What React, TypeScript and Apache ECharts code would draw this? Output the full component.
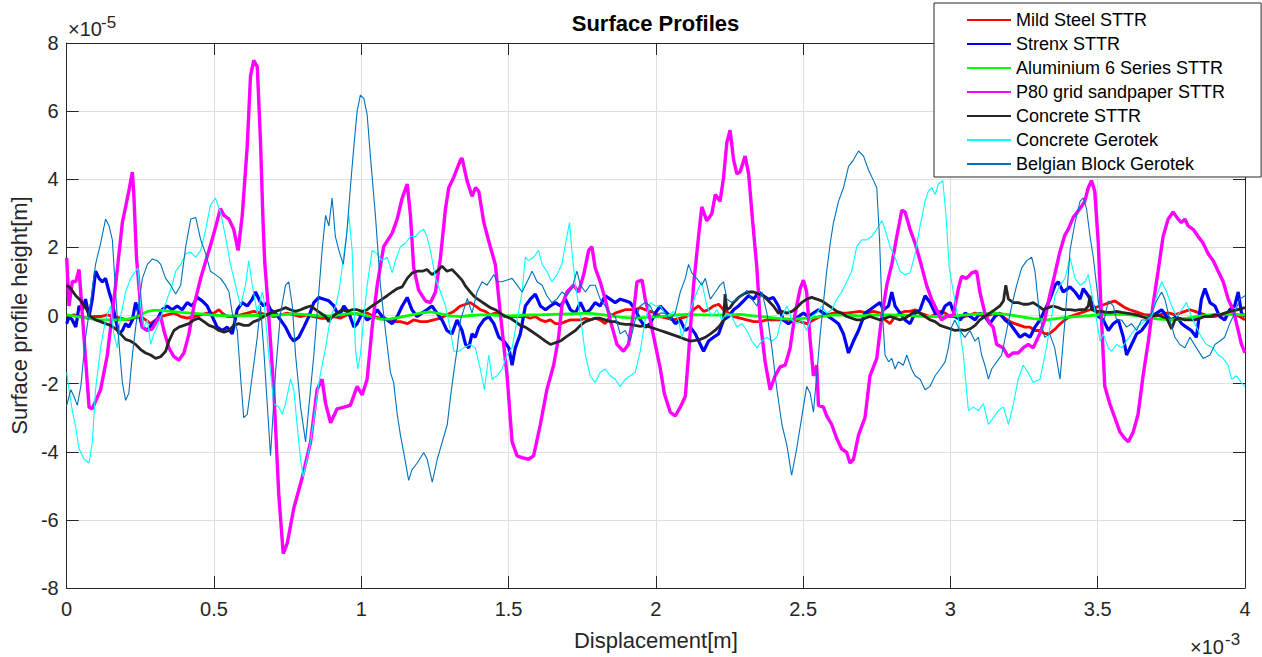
import React, { useEffect, useRef } from 'react';
import * as echarts from 'echarts';

// Displacement is stored in units of 1e-3 m, profile height in units of 1e-5 m.
const X_TICKS = { min: 0, max: 4, interval: 0.5 };
const Y_TICKS = { min: -8, max: 8, interval: 2 };

const MILD_STEEL: number[][] = [
  [0.000,-0.03],[0.025,0.02],[0.048,-0.03],[0.070,-0.08],[0.093,-0.03],[0.115,-0.03],[0.138,0.02],[0.160,-0.03],[0.183,-0.08],[0.206,-0.13],[0.228,-0.08],[0.251,-0.03],[0.268,-0.13],[0.285,-0.24],[0.302,-0.13],[0.319,-0.03],[0.341,0.02],[0.364,0.07],[0.387,-0.03],[0.409,-0.08],[0.432,-0.03],[0.455,0.02],[0.477,0.07],[0.500,0.07],[0.517,0.17],[0.528,0.07],[0.545,-0.03],[0.567,-0.03],[0.590,0.02],[0.613,0.07],[0.635,0.12],[0.658,0.07],
  [0.681,0.02],[0.703,-0.03],[0.726,0.02],[0.749,0.07],[0.771,0.02],[0.794,-0.03],[0.816,0.02],[0.839,-0.03],[0.862,-0.08],[0.884,-0.08],[0.907,-0.03],[0.929,-0.08],[0.952,0.02],[0.975,0.07],[0.997,0.02],[1.020,0.07],[1.043,-0.03],[1.065,-0.08],[1.088,-0.13],[1.110,-0.18],[1.133,-0.18],[1.156,-0.24],[1.178,-0.13],[1.201,-0.18],[1.223,-0.18],[1.246,-0.13],[1.269,-0.08],[1.291,0.02],[1.314,0.12],[1.337,0.28],[1.354,0.33],
  [1.370,0.38],[1.387,0.28],[1.404,0.17],[1.421,0.12],[1.438,0.02],[1.455,0.07],[1.472,0.02],[1.489,-0.03],[1.523,-0.03],[1.557,-0.03],[1.574,-0.08],[1.591,-0.03],[1.608,-0.13],[1.625,-0.18],[1.642,-0.13],[1.659,-0.24],[1.676,-0.24],[1.693,-0.18],[1.710,-0.13],[1.744,-0.13],[1.761,-0.08],[1.777,-0.13],[1.794,-0.08],[1.811,-0.13],[1.828,-0.24],[1.845,-0.03],[1.862,0.07],[1.879,0.12],[1.896,0.17],[1.930,0.17],[1.947,0.23],[1.964,0.17],[1.981,0.12],[1.998,0.07],[2.015,-0.03],
  [2.038,-0.08],[2.060,-0.13],[2.083,-0.08],[2.105,-0.03],[2.128,0.17],[2.145,0.28],[2.162,0.12],[2.179,0.17],[2.196,0.28],[2.213,0.33],[2.230,0.17],[2.247,0.07],[2.264,-0.03],[2.286,-0.08],[2.309,-0.13],[2.332,-0.18],[2.354,-0.18],[2.377,-0.13],[2.422,-0.13],[2.467,-0.13],[2.490,-0.18],[2.512,-0.24],[2.535,-0.13],[2.558,-0.03],[2.580,0.02],[2.603,0.07],[2.648,0.07],[2.693,0.12],
  [2.716,0.07],[2.739,0.12],[2.761,0.07],[2.778,-0.13],[2.795,-0.24],[2.812,-0.03],[2.829,0.07],[2.846,0.12],[2.863,0.12],[2.880,0.17],[2.897,0.07],[2.914,0.02],[2.931,-0.03],[2.948,0.02],[2.965,0.12],[2.982,0.07],[2.999,-0.03],[3.016,-0.03],[3.033,-0.08],[3.050,-0.03],[3.067,0.02],[3.084,0.07],[3.100,0.02],[3.117,-0.03],[3.134,0.02],[3.151,0.07],[3.168,0.02],[3.185,-0.08],[3.202,-0.18],[3.219,-0.24],[3.236,-0.29],[3.253,-0.34],[3.270,-0.34],[3.287,-0.44],[3.304,-0.44],[3.321,-0.54],[3.338,-0.52],[3.355,-0.40],[3.372,-0.25],
  [3.389,-0.13],[3.406,-0.03],[3.423,0.02],[3.440,0.07],[3.457,0.12],[3.474,0.17],[3.491,0.23],[3.508,0.28],[3.524,0.33],[3.541,0.38],[3.558,0.43],[3.575,0.33],[3.592,0.23],[3.609,0.17],[3.626,0.12],[3.643,0.07],[3.660,0.02],[3.677,0.02],[3.694,-0.03],[3.711,0.02],[3.728,0.07],[3.745,0.07],[3.762,0.02],[3.779,0.07],[3.796,0.12],[3.813,0.17],[3.830,0.12],[3.847,0.07],[3.864,0.02],[3.881,-0.03],[3.898,-0.03],[3.915,0.02],[3.931,0.02],[3.948,0.07],[3.965,0.02],[3.982,-0.03],[4.000,-0.13],
];

const STRENX: number[][] = [
  [0.000,-0.24],[0.008,-0.03],[0.019,-0.13],[0.031,-0.34],[0.042,0.28],[0.053,0.17],[0.064,0.48],[0.076,-0.03],[0.087,0.48],[0.098,1.30],[0.110,1.09],[0.121,0.99],[0.132,1.09],[0.144,0.69],[0.155,0.38],[0.166,-0.13],[0.178,-0.54],[0.189,-0.44],[0.200,-0.24],[0.211,-0.34],[0.223,-0.13],[0.234,0.38],[0.245,0.07],[0.257,-0.34],[0.274,-0.44],[0.291,-0.24],[0.307,-0.13],[0.324,0.17],[0.341,0.28],[0.358,0.17],[0.375,0.28],[0.392,0.17],[0.409,0.38],[0.426,0.28],[0.443,0.53],[0.460,0.43],[0.477,0.28],[0.494,-0.03],[0.511,-0.34],[0.528,-0.44],[0.545,-0.34],[0.562,-0.54],[0.579,0.17],[0.596,0.38],[0.613,0.28],[0.630,0.48],[0.641,0.69],[0.658,0.38],
  [0.669,0.28],[0.681,0.38],[0.692,0.17],[0.709,0.07],[0.726,-0.13],[0.743,-0.34],[0.760,-0.64],[0.771,-0.75],[0.788,-0.64],[0.805,-0.34],[0.822,-0.03],[0.839,0.38],[0.856,0.53],[0.873,0.48],[0.890,0.43],[0.907,0.28],[0.924,-0.03],[0.941,0.28],[0.958,0.07],[0.975,-0.34],[0.986,-0.24],[1.003,0.07],[1.020,-0.13],[1.037,-0.03],[1.054,0.17],[1.071,-0.03],[1.088,-0.13],[1.105,-0.24],[1.122,-0.03],[1.139,0.28],[1.156,0.53],[1.172,0.17],[1.189,-0.03],[1.206,0.07],[1.223,0.17],[1.240,0.28],[1.257,0.07],[1.274,-0.13],[1.291,-0.44],[1.308,-0.54],[1.325,-0.13],[1.342,-0.44],
  [1.354,-0.85],[1.365,-0.95],[1.376,-0.54],[1.387,-0.64],[1.399,-0.34],[1.416,-0.13],[1.433,-0.03],[1.450,-0.24],[1.467,-0.64],[1.484,-0.75],[1.501,-0.95],[1.512,-1.46],[1.523,-0.95],[1.540,-0.54],[1.557,0.28],[1.574,0.48],[1.591,0.63],[1.608,0.28],[1.625,0.17],[1.642,0.28],[1.659,0.38],[1.676,0.28],[1.693,0.48],[1.710,0.17],[1.727,0.07],[1.744,0.38],[1.761,0.07],[1.777,0.17],[1.794,0.38],[1.811,0.28],[1.828,0.58],[1.845,0.48],[1.862,0.38],[1.879,0.48],[1.896,0.43],[1.913,0.38],[1.930,0.17],[1.947,-0.13],[1.964,-0.34],[1.981,-0.24],[1.998,0.07],[2.015,0.28],
  [2.032,0.12],[2.049,-0.03],[2.066,-0.24],[2.083,-0.13],[2.100,-0.44],[2.117,-0.34],[2.134,-0.54],[2.151,-0.85],[2.162,-1.05],[2.179,-0.75],[2.196,-0.64],[2.213,-0.54],[2.230,-0.13],[2.247,-0.03],[2.264,0.17],[2.281,0.28],[2.298,0.43],[2.315,0.58],[2.332,0.48],[2.349,0.69],[2.365,0.58],[2.382,0.48],[2.399,0.53],[2.416,0.28],[2.433,-0.13],[2.450,-0.24],[2.467,-0.13],[2.484,-0.03],[2.501,0.07],[2.518,-0.03],[2.535,0.07],[2.552,0.17],[2.569,0.07],[2.586,-0.03],[2.603,-0.13],[2.620,-0.24],[2.637,-0.54],[2.654,-1.10],[2.671,-0.75],[2.688,-0.44],
  [2.710,0.07],[2.727,0.17],[2.744,0.28],[2.761,0.38],[2.773,0.17],[2.790,0.28],[2.801,0.69],[2.812,0.28],[2.829,0.07],[2.846,-0.13],[2.863,-0.24],[2.880,0.07],[2.897,0.17],[2.914,0.58],[2.931,0.38],[2.948,0.07],[2.965,-0.03],[2.982,0.28],[2.999,0.38],[3.016,-0.03],[3.033,-0.13],[3.050,0.07],[3.067,-0.03],[3.084,-0.13],[3.100,0.07],[3.117,-0.03],[3.134,-0.24],[3.151,-0.03],[3.168,0.07],[3.185,-0.13],[3.202,-0.24],[3.219,-0.44],[3.236,-0.64],[3.253,-0.54],[3.270,-0.64],[3.287,-0.34],[3.304,-0.13],[3.321,0.17],[3.338,0.48],[3.355,0.89],[3.366,0.99],[3.383,0.69],
  [3.406,0.84],[3.423,0.69],[3.440,0.48],[3.451,0.79],[3.468,0.58],[3.485,0.28],[3.502,-0.03],[3.519,-0.13],[3.536,-0.44],[3.553,-0.24],[3.570,-0.13],[3.587,-0.64],[3.598,-1.16],[3.615,-0.85],[3.632,-0.54],[3.649,-0.44],[3.666,-0.24],[3.683,-0.03],[3.700,0.07],[3.717,0.17],[3.734,-0.03],[3.751,-0.13],[3.768,-0.03],[3.785,-0.24],[3.801,-0.34],[3.818,-0.44],[3.835,-0.64],[3.852,0.48],[3.864,0.79],[3.881,0.38],[3.898,0.28],[3.914,-0.03],[3.931,-0.13],[3.948,0.17],[3.965,0.28],[3.977,0.69],[3.988,0.07],[4.000,-0.03],
];

const ALUMINIUM: number[][] = [
  [0.000,0.02],[0.036,-0.03],[0.070,-0.08],[0.104,-0.13],[0.138,-0.13],[0.172,-0.13],[0.206,-0.11],[0.240,-0.03],[0.274,0.12],[0.296,0.15],[0.319,0.15],[0.353,0.12],[0.387,0.09],[0.421,0.07],[0.455,0.05],[0.488,0.02],[0.522,0.00],[0.556,-0.01],[0.590,-0.01],[0.624,0.00],[0.658,0.00],[0.692,0.00],[0.726,0.02],[0.760,0.05],[0.794,0.04],[0.828,0.01],[0.862,-0.01],[0.896,-0.01],[0.929,0.02],[0.963,0.07],[0.997,0.05],[1.031,-0.03],[1.065,-0.11],[1.099,-0.10],[1.133,-0.05],[1.167,0.01],[1.201,0.07],[1.235,0.11],[1.269,0.05],[1.303,-0.01],[1.337,-0.03],[1.370,0.00],[1.404,0.02],[1.438,0.02],[1.472,0.00],[1.506,-0.01],[1.540,0.00],[1.574,0.02],[1.608,0.02],[1.642,0.03],[1.676,0.04],[1.710,0.05],[1.744,0.06],[1.777,0.06],[1.811,0.03],[1.845,-0.01],[1.879,-0.05],[1.913,-0.07],[1.947,-0.07],[1.981,-0.05],[2.015,-0.03],[2.060,0.01],[2.105,0.03],[2.151,0.02],[2.196,0.01],[2.241,0.02],[2.286,0.03],[2.332,-0.01],[2.377,-0.05],[2.422,-0.09],[2.467,-0.11],[2.512,-0.08],[2.558,-0.03],[2.603,0.01],[2.648,0.01],[2.693,-0.01],[2.739,0.01],[2.784,0.02],[2.829,0.01],[2.874,-0.01],[2.919,-0.03],[2.965,-0.03],[3.010,-0.01],[3.055,0.02],[3.100,0.05],[3.146,0.07],[3.191,0.03],[3.236,-0.03],[3.281,-0.09],[3.327,-0.13],[3.372,-0.08],[3.428,-0.03],[3.474,0.00],[3.519,0.03],[3.564,0.04],[3.609,0.02],[3.654,-0.03],[3.700,-0.10],[3.745,-0.13],[3.790,-0.10],[3.835,-0.03],[3.881,0.02],[3.926,0.04],[3.971,0.03],[4.000,0.01],
];

const P80_SANDPAPER: number[][] = [
  [0.000,1.69],[0.008,0.28],[0.019,1.00],[0.031,1.00],[0.042,1.35],[0.076,-2.69],[0.087,-2.74],[0.115,-2.18],[0.138,-1.16],[0.166,0.89],[0.189,2.73],[0.211,3.65],[0.223,4.21],[0.228,3.55],[0.237,1.70],[0.257,-0.34],[0.274,-0.44],[0.291,-0.39],[0.308,-0.13],[0.319,-0.03],[0.330,-0.44],[0.347,-0.95],[0.364,-1.21],[0.381,-1.31],[0.398,-1.10],[0.415,-0.54],[0.432,0.28],[0.455,1.10],[0.483,1.91],[0.500,2.42],[0.522,3.14],[0.534,2.94],[0.551,2.83],[0.567,2.53],[0.582,1.91],[0.596,2.94],[0.613,4.98],[0.624,7.03],[0.635,7.49],[0.647,7.30],[0.658,5.10],[0.666,2.90],[0.672,1.60],[0.681,0.60],[0.703,-2.18],[0.720,-5.25],[0.735,-6.99],[0.749,-6.68],[0.771,-5.66],[0.800,-4.74],[0.828,-3.71],[0.850,-2.18],[0.867,-1.87],[0.879,-2.59],[0.896,-3.15],[0.918,-2.74],[0.941,-2.69],[0.963,-2.64],[0.986,-2.08],[1.003,-2.33],[1.020,-1.87],[1.037,-0.34],[1.054,0.89],[1.076,2.02],[1.105,2.42],[1.122,2.83],[1.139,3.45],[1.156,3.86],[1.167,2.94],[1.178,1.40],[1.195,0.74],[1.218,0.43],[1.235,0.38],[1.252,0.69],[1.269,1.71],[1.286,3.14],[1.297,3.75],[1.314,4.06],[1.337,4.57],[1.342,4.62],[1.359,3.96],[1.376,3.50],[1.388,3.75],[1.399,3.65],[1.416,2.73],[1.438,2.02],[1.455,1.50],[1.472,0.07],[1.495,-1.77],[1.512,-3.71],[1.529,-4.12],[1.546,-4.17],[1.568,-4.22],[1.585,-4.12],[1.608,-3.20],[1.630,-2.18],[1.653,-1.46],[1.670,-0.64],[1.681,0.28],[1.698,0.69],[1.721,0.89],[1.738,0.69],[1.755,1.20],[1.772,1.91],[1.783,2.02],[1.794,1.40],[1.811,0.99],[1.828,0.48],[1.845,-0.13],[1.868,-0.85],[1.890,-1.05],[1.907,-0.85],[1.924,0.07],[1.936,0.99],[1.953,1.04],[1.964,0.48],[1.981,-0.13],[1.998,-0.85],[2.015,-1.55],[2.029,-2.30],[2.049,-2.84],[2.066,-2.95],[2.083,-2.69],[2.100,-2.38],[2.111,-1.16],[2.128,0.89],[2.145,2.32],[2.156,3.19],[2.173,2.78],[2.190,2.99],[2.202,3.55],[2.218,3.35],[2.230,4.06],[2.241,5.08],[2.252,5.44],[2.264,4.57],[2.275,4.16],[2.286,4.21],[2.303,4.68],[2.315,4.16],[2.329,2.73],[2.343,1.40],[2.354,-0.13],[2.371,-1.36],[2.388,-2.18],[2.405,-1.77],[2.422,-1.51],[2.439,-1.46],[2.456,-0.95],[2.473,0.07],[2.490,0.79],[2.501,1.04],[2.512,0.69],[2.524,-0.75],[2.535,-1.77],[2.546,-1.46],[2.552,-2.64],[2.569,-2.69],[2.580,-2.95],[2.597,-3.20],[2.614,-3.61],[2.631,-3.92],[2.648,-4.02],[2.659,-4.33],[2.671,-4.22],[2.688,-3.51],[2.710,-3.00],[2.727,-1.77],[2.750,-1.26],[2.767,-0.03],[2.784,0.89],[2.801,1.50],[2.818,2.32],[2.835,3.09],[2.846,3.04],[2.863,2.53],[2.880,2.12],[2.897,1.61],[2.919,0.89],[2.936,0.48],[2.953,0.17],[2.970,-0.13],[2.987,-0.03],[3.010,0.02],[3.027,0.79],[3.038,1.15],[3.055,1.09],[3.072,1.25],[3.089,1.30],[3.100,0.69],[3.117,0.07],[3.134,-0.24],[3.145,-0.34],[3.157,-0.85],[3.179,-0.95],[3.196,-1.21],[3.213,-1.10],[3.230,-1.10],[3.247,-0.95],[3.264,-0.85],[3.281,-0.95],[3.303,-0.54],[3.320,-0.13],[3.337,0.58],[3.354,1.20],[3.371,1.85],[3.388,2.35],[3.400,2.53],[3.417,2.88],[3.440,3.14],[3.456,3.35],[3.468,3.75],[3.479,3.96],[3.490,3.65],[3.502,2.12],[3.513,-0.13],[3.524,-2.08],[3.541,-2.59],[3.558,-3.00],[3.575,-3.41],[3.592,-3.61],[3.604,-3.71],[3.621,-3.41],[3.637,-2.90],[3.654,-1.77],[3.672,-0.75],[3.689,0.38],[3.705,1.30],[3.722,2.32],[3.739,2.83],[3.756,3.04],[3.773,2.83],[3.784,2.73],[3.796,2.83],[3.807,2.63],[3.824,2.53],[3.841,2.32],[3.858,2.12],[3.875,1.81],[3.892,1.61],[3.909,1.30],[3.926,0.99],[3.943,0.48],[3.960,0.17],[3.977,-0.44],[3.988,-0.85],[4.000,-1.10],
];

const CONCRETE_STTR: number[][] = [
  [0.000,0.89],[0.014,0.79],[0.031,0.58],[0.048,0.43],[0.064,0.23],[0.081,-0.03],[0.098,-0.13],[0.115,-0.18],[0.132,-0.24],[0.149,-0.29],[0.166,-0.39],[0.183,-0.54],[0.200,-0.70],[0.217,-0.75],[0.234,-0.85],[0.251,-1.00],[0.268,-1.10],[0.285,-1.16],[0.302,-1.26],[0.319,-1.21],[0.336,-1.05],[0.347,-0.75],[0.364,-0.44],[0.381,-0.34],[0.398,-0.29],[0.415,-0.24],[0.432,-0.13],[0.449,-0.08],[0.466,-0.18],[0.483,-0.29],[0.500,-0.34],[0.517,-0.44],[0.534,-0.49],[0.551,-0.44],[0.567,-0.29],[0.584,-0.24],[0.601,-0.29],[0.618,-0.29],[0.635,-0.18],[0.652,-0.13],[0.669,-0.03],[0.692,0.07],[0.709,0.12],[0.726,0.17],[0.743,0.23],[0.760,0.17],[0.777,0.12],[0.794,0.17],[0.811,0.23],[0.828,0.28],[0.845,0.17],[0.862,0.07],[0.879,-0.03],[0.890,-0.18],[0.901,-0.03],[0.918,0.07],[0.935,0.17],[0.952,0.12],[0.969,0.17],[0.986,0.17],[1.003,0.12],[1.020,0.17],[1.037,0.28],[1.054,0.38],[1.071,0.48],[1.088,0.58],[1.105,0.69],[1.122,0.79],[1.139,0.84],[1.156,1.09],[1.173,1.25],[1.190,1.30],[1.207,1.30],[1.223,1.35],[1.240,1.20],[1.257,1.30],[1.274,1.45],[1.291,1.30],[1.308,1.35],[1.325,1.20],[1.342,1.04],[1.354,0.86],[1.370,0.69],[1.387,0.53],[1.404,0.43],[1.421,0.33],[1.438,0.23],[1.455,0.17],[1.472,0.07],[1.489,-0.03],[1.506,-0.08],[1.523,-0.18],[1.540,-0.29],[1.557,-0.34],[1.574,-0.44],[1.591,-0.54],[1.608,-0.64],[1.625,-0.75],[1.642,-0.85],[1.659,-0.80],[1.676,-0.75],[1.693,-0.64],[1.710,-0.54],[1.727,-0.44],[1.744,-0.29],[1.761,-0.18],[1.777,-0.13],[1.794,-0.08],[1.811,-0.08],[1.828,-0.13],[1.845,-0.18],[1.862,-0.18],[1.879,-0.24],[1.896,-0.26],[1.913,-0.26],[1.930,-0.29],[1.947,-0.32],[1.964,-0.29],[1.981,-0.34],[1.998,-0.39],[2.015,-0.44],[2.032,-0.49],[2.049,-0.54],[2.066,-0.59],[2.083,-0.64],[2.100,-0.70],[2.117,-0.75],[2.134,-0.73],[2.151,-0.70],[2.168,-0.64],[2.185,-0.54],[2.201,-0.44],[2.218,-0.29],[2.230,-0.13],[2.235,0.63],[2.241,0.17],[2.252,0.23],[2.264,0.38],[2.281,0.53],[2.298,0.63],[2.315,0.69],[2.332,0.69],[2.349,0.63],[2.365,0.58],[2.382,0.43],[2.399,0.28],[2.416,0.07],[2.428,0.12],[2.445,0.07],[2.462,0.12],[2.479,0.23],[2.495,0.38],[2.512,0.48],[2.529,0.53],[2.546,0.48],[2.563,0.43],[2.580,0.33],[2.597,0.23],[2.614,0.12],[2.631,0.07],[2.648,-0.03],[2.665,-0.08],[2.682,-0.13],[2.699,-0.13],[2.710,-0.08],[2.727,-0.03],[2.744,-0.08],[2.761,-0.13],[2.778,-0.08],[2.795,-0.03],[2.812,-0.08],[2.829,-0.13],[2.846,-0.08],[2.863,0.02],[2.880,0.12],[2.897,0.07],[2.914,-0.03],[2.931,-0.13],[2.948,-0.18],[2.965,-0.29],[2.982,-0.34],[2.999,-0.39],[3.016,-0.44],[3.033,-0.42],[3.050,-0.44],[3.067,-0.39],[3.084,-0.29],[3.100,-0.13],[3.117,-0.03],[3.134,0.07],[3.151,0.17],[3.168,0.28],[3.180,0.43],[3.188,0.89],[3.197,0.48],[3.214,0.38],[3.230,0.38],[3.247,0.33],[3.264,0.33],[3.281,0.38],[3.298,0.28],[3.315,0.17],[3.332,0.23],[3.349,0.28],[3.366,0.23],[3.383,0.17],[3.406,0.17],[3.423,0.15],[3.440,0.17],[3.457,0.17],[3.468,0.28],[3.474,0.58],[3.479,0.17],[3.496,0.12],[3.513,0.12],[3.530,0.09],[3.547,0.09],[3.564,0.12],[3.581,0.09],[3.598,0.07],[3.615,0.05],[3.632,0.02],[3.649,-0.03],[3.666,-0.08],[3.683,-0.03],[3.700,0.02],[3.717,-0.03],[3.734,-0.08],[3.751,-0.39],[3.762,-0.13],[3.779,-0.08],[3.796,-0.13],[3.813,-0.13],[3.830,-0.13],[3.847,-0.08],[3.864,-0.03],[3.881,-0.03],[3.898,0.02],[3.915,0.02],[3.931,0.07],[3.948,0.12],[3.965,0.15],[3.982,0.19],[4.000,0.23],
];

const CONCRETE_GEROTEK: number[][] = [
  [0.000,-1.67],[0.008,-2.18],[0.019,-2.79],[0.031,-3.30],[0.042,-3.92],[0.059,-4.22],[0.076,-4.33],[0.087,-3.71],[0.098,-2.18],[0.115,-0.95],[0.132,-0.13],[0.149,0.28],[0.160,-0.54],[0.172,-0.95],[0.183,-0.03],[0.200,0.69],[0.217,1.09],[0.234,1.30],[0.242,1.40],[0.251,0.28],[0.262,-0.34],[0.274,-0.13],[0.285,-0.85],[0.296,-0.54],[0.307,-0.34],[0.324,0.07],[0.341,0.48],[0.358,0.89],[0.370,1.30],[0.387,1.50],[0.404,1.81],[0.421,1.86],[0.438,1.71],[0.455,1.91],[0.472,2.53],[0.488,3.24],[0.505,3.45],[0.522,3.04],[0.539,2.32],[0.556,1.50],[0.573,0.89],[0.590,0.28],[0.607,0.89],[0.618,1.61],[0.630,0.89],[0.647,0.07],[0.664,0.69],[0.669,0.50],[0.686,-1.16],[0.703,-2.59],[0.720,-2.69],[0.732,-2.90],[0.743,-2.59],[0.760,-1.87],[0.771,-2.18],[0.782,-3.20],[0.794,-4.22],[0.803,-4.74],[0.816,-4.22],[0.828,-3.71],[0.845,-2.69],[0.856,-1.97],[0.867,-1.46],[0.879,-0.95],[0.890,-0.34],[0.901,0.07],[0.913,0.28],[0.924,0.69],[0.935,1.40],[0.946,2.12],[0.958,2.94],[0.969,1.91],[0.980,-0.95],[0.988,-1.57],[0.997,-1.16],[1.009,-0.03],[1.020,0.89],[1.037,1.91],[1.054,1.81],[1.071,1.61],[1.088,1.71],[1.105,1.25],[1.116,1.61],[1.133,2.02],[1.150,2.12],[1.167,2.32],[1.184,2.32],[1.201,2.48],[1.212,2.53],[1.223,2.32],[1.235,1.91],[1.252,1.09],[1.269,0.69],[1.286,0.28],[1.303,-0.44],[1.314,-1.05],[1.331,-1.05],[1.348,-0.95],[1.370,-0.85],[1.387,-0.95],[1.404,-1.57],[1.418,-2.18],[1.433,-1.16],[1.444,-1.87],[1.461,-1.77],[1.478,-1.57],[1.495,-1.16],[1.512,-0.95],[1.529,-0.13],[1.546,0.69],[1.557,1.71],[1.568,1.61],[1.585,1.71],[1.602,1.91],[1.614,1.50],[1.630,1.30],[1.647,0.99],[1.664,1.20],[1.681,1.50],[1.698,2.32],[1.707,2.73],[1.715,1.91],[1.727,0.89],[1.744,-0.03],[1.761,-1.16],[1.777,-1.77],[1.794,-1.97],[1.811,-1.67],[1.828,-1.57],[1.845,-1.77],[1.862,-1.87],[1.879,-2.08],[1.896,-1.87],[1.913,-1.77],[1.930,-1.67],[1.947,-1.05],[1.964,-0.13],[1.981,0.38],[1.998,0.28],[2.015,0.28],[2.038,-0.03],[2.060,0.12],[2.077,-0.13],[2.088,-0.64],[2.105,-0.13],[2.122,0.28],[2.139,0.69],[2.156,0.99],[2.173,0.28],[2.190,-0.03],[2.207,0.17],[2.224,-0.13],[2.241,0.07],[2.258,-0.03],[2.275,-0.34],[2.292,-0.24],[2.309,-0.44],[2.326,-0.75],[2.343,-0.95],[2.360,-0.75],[2.377,-0.64],[2.394,-0.75],[2.411,-0.64],[2.428,-0.03],[2.445,0.28],[2.462,-0.13],[2.479,-0.24],[2.495,-0.13],[2.512,-0.44],[2.529,-0.03],[2.546,0.07],[2.563,0.28],[2.580,0.07],[2.597,0.17],[2.614,0.48],[2.631,0.69],[2.648,0.99],[2.665,1.30],[2.682,2.02],[2.699,2.22],[2.716,2.22],[2.733,2.32],[2.750,2.53],[2.767,2.78],[2.778,2.53],[2.795,2.02],[2.812,1.71],[2.829,1.30],[2.846,1.20],[2.863,1.25],[2.880,1.81],[2.897,2.63],[2.914,3.35],[2.925,3.65],[2.937,3.75],[2.948,3.55],[2.959,3.86],[2.974,3.96],[2.985,2.94],[2.996,1.40],[3.010,0.69],[3.027,-0.13],[3.044,-1.16],[3.061,-2.79],[3.078,-2.69],[3.095,-2.79],[3.112,-2.59],[3.129,-3.20],[3.146,-3.00],[3.163,-2.79],[3.180,-2.69],[3.197,-3.20],[3.214,-2.59],[3.230,-1.87],[3.247,-1.46],[3.264,-1.67],[3.281,-1.97],[3.304,-1.87],[3.321,-1.16],[3.338,-0.34],[3.355,0.58],[3.372,0.89],[3.389,1.09],[3.406,1.71],[3.423,1.09],[3.440,0.89],[3.457,0.99],[3.468,1.20],[3.479,0.69],[3.496,-0.13],[3.508,-0.75],[3.519,-0.54],[3.536,-0.95],[3.547,-1.05],[3.564,-0.85],[3.581,-0.95],[3.598,-0.75],[3.615,-0.54],[3.632,-0.34],[3.649,-0.24],[3.666,-0.13],[3.683,-0.03],[3.700,0.58],[3.717,0.99],[3.734,0.69],[3.751,0.28],[3.768,-0.03],[3.785,0.17],[3.801,0.38],[3.818,-0.03],[3.835,-0.34],[3.852,-0.64],[3.869,-0.85],[3.892,-0.95],[3.909,-1.16],[3.926,-1.26],[3.943,-1.46],[3.954,-1.87],[3.971,-1.77],[3.988,-1.97],[4.000,-2.08],
];

const BELGIAN_BLOCK: number[][] = [
  [0.000,-2.64],[0.014,-2.18],[0.025,-2.38],[0.036,-2.64],[0.048,-2.08],[0.064,-0.64],[0.081,0.38],[0.098,1.50],[0.115,2.12],[0.132,2.83],[0.144,2.63],[0.155,2.22],[0.166,0.69],[0.178,-0.85],[0.189,-1.97],[0.200,-2.49],[0.211,-2.28],[0.223,-1.16],[0.240,0.07],[0.257,1.09],[0.274,1.50],[0.291,1.66],[0.308,1.61],[0.319,1.50],[0.336,1.09],[0.353,0.89],[0.370,0.63],[0.387,0.89],[0.404,2.02],[0.421,2.83],[0.438,2.88],[0.455,2.22],[0.472,1.81],[0.488,1.30],[0.505,1.20],[0.522,1.09],[0.539,0.89],[0.551,0.69],[0.562,0.07],[0.579,-0.44],[0.590,-1.77],[0.601,-3.00],[0.613,-2.90],[0.630,-1.77],[0.647,-0.64],[0.658,0.28],[0.669,-1.00],[0.692,-4.12],[0.709,-1.67],[0.726,0.07],[0.743,0.89],[0.754,0.99],[0.766,0.28],[0.777,-1.16],[0.794,-2.69],[0.811,-3.71],[0.822,-2.69],[0.839,-1.16],[0.856,0.69],[0.867,1.91],[0.879,2.94],[0.890,2.63],[0.901,3.45],[0.912,2.32],[0.924,1.91],[0.939,1.50],[0.950,2.32],[0.963,3.75],[0.975,4.98],[0.986,6.00],[0.997,6.47],[1.009,6.37],[1.020,5.90],[1.031,4.68],[1.048,2.94],[1.065,0.89],[1.082,-0.44],[1.099,-1.67],[1.110,-1.97],[1.122,-2.90],[1.133,-3.51],[1.144,-4.02],[1.161,-4.84],[1.172,-4.53],[1.190,-4.33],[1.212,-4.02],[1.224,-4.22],[1.241,-4.89],[1.258,-4.22],[1.275,-3.71],[1.292,-3.20],[1.303,-2.38],[1.314,-1.67],[1.326,-0.95],[1.337,-0.13],[1.348,0.17],[1.360,0.50],[1.376,0.07],[1.393,0.69],[1.410,0.99],[1.427,0.89],[1.450,1.20],[1.461,0.99],[1.478,0.99],[1.495,1.04],[1.512,1.09],[1.529,0.89],[1.546,0.69],[1.563,0.99],[1.580,1.30],[1.597,0.99],[1.614,0.89],[1.630,0.58],[1.647,0.38],[1.664,0.48],[1.681,0.69],[1.698,0.58],[1.715,0.79],[1.732,1.30],[1.744,0.89],[1.761,0.69],[1.777,0.89],[1.794,0.89],[1.811,0.48],[1.828,0.28],[1.845,0.07],[1.862,-0.03],[1.879,-0.54],[1.896,-0.44],[1.913,-0.75],[1.930,-0.13],[1.947,0.28],[1.964,0.38],[1.981,0.28],[1.998,-0.03],[2.015,0.07],[2.032,0.07],[2.049,-0.13],[2.066,0.07],[2.083,0.69],[2.100,1.09],[2.111,1.50],[2.122,1.25],[2.139,1.09],[2.156,0.89],[2.168,1.09],[2.185,0.48],[2.202,0.69],[2.218,0.89],[2.230,0.99],[2.241,0.48],[2.258,0.38],[2.275,0.48],[2.292,0.58],[2.309,0.74],[2.326,0.48],[2.343,0.28],[2.360,0.69],[2.377,0.07],[2.394,-0.95],[2.411,-2.18],[2.428,-3.20],[2.445,-3.82],[2.461,-4.69],[2.478,-3.92],[2.495,-3.00],[2.512,-2.08],[2.524,-2.28],[2.535,-2.84],[2.546,-1.77],[2.558,-0.54],[2.569,0.38],[2.580,1.30],[2.592,2.12],[2.603,2.73],[2.620,3.35],[2.637,3.75],[2.654,4.37],[2.671,4.57],[2.688,4.83],[2.705,4.68],[2.722,4.27],[2.739,3.96],[2.750,3.75],[2.759,2.32],[2.767,0.38],[2.778,-1.16],[2.790,-1.36],[2.801,-1.26],[2.812,-1.57],[2.823,-1.36],[2.840,-1.46],[2.852,-1.16],[2.868,-1.57],[2.880,-1.77],[2.897,-1.87],[2.914,-2.18],[2.931,-2.08],[2.948,-1.77],[2.965,-1.57],[2.982,-1.36],[2.993,-0.95],[3.004,-0.34],[3.015,-0.13],[3.032,-0.44],[3.049,-0.64],[3.066,-0.44],[3.083,-0.75],[3.095,-0.64],[3.106,-1.16],[3.117,-1.46],[3.129,-1.87],[3.140,-1.57],[3.157,-1.36],[3.174,-1.16],[3.191,-0.44],[3.208,0.28],[3.225,0.89],[3.242,1.40],[3.259,1.61],[3.276,1.71],[3.287,1.30],[3.303,-0.03],[3.320,-0.64],[3.337,-0.54],[3.354,-0.95],[3.372,-1.87],[3.389,-0.13],[3.406,1.91],[3.423,2.73],[3.440,3.35],[3.451,3.45],[3.462,3.14],[3.474,2.32],[3.485,1.71],[3.496,0.89],[3.507,0.07],[3.519,-0.24],[3.536,0.43],[3.553,0.28],[3.564,-0.13],[3.581,-0.13],[3.598,-0.34],[3.615,-0.24],[3.632,-0.44],[3.649,-0.13],[3.666,-0.13],[3.683,0.07],[3.700,0.43],[3.717,0.69],[3.728,0.48],[3.745,-0.13],[3.762,-0.64],[3.779,-0.85],[3.796,-0.95],[3.813,-0.64],[3.835,-0.95],[3.858,-1.26],[3.881,-1.16],[3.898,-0.85],[3.915,-0.75],[3.931,-0.64],[3.948,-0.24],[3.965,0.07],[3.982,0.48],[4.000,0.58],
];

const SERIES_NAMES = [
  'Mild Steel STTR',
  'Strenx STTR',
  'Aluminium 6 Series STTR',
  'P80 grid sandpaper STTR',
  'Concrete STTR',
  'Concrete Gerotek',
  'Belgian Block Gerotek',
];
const SERIES_DATA = [MILD_STEEL, STRENX, ALUMINIUM, P80_SANDPAPER, CONCRETE_STTR, CONCRETE_GEROTEK, BELGIAN_BLOCK];
const SERIES_COLORS = ['#ff0000', '#0000ff', '#00ff00', '#ff00ff', '#262626', '#00ffff', '#0072bd'];
const SERIES_WIDTHS = [2.8, 3.2, 2.8, 3.4, 2.8, 1.1, 1.1];

const FONT = '"Liberation Sans", Arial, Helvetica, sans-serif';
const AXIS_COLOR = '#262626';
const GRID_COLOR = '#dfdfdf';

export default function App() {
  const ref = useRef<HTMLDivElement>(null);

  useEffect(() => {
    if (!ref.current) return;
    const chart = echarts.init(ref.current, null, { renderer: 'svg' });

    const baseX = {
      type: 'value' as const,
      min: X_TICKS.min,
      max: X_TICKS.max,
      interval: X_TICKS.interval,
      axisLine: { onZero: false, lineStyle: { color: AXIS_COLOR, width: 1 } },
      axisTick: { inside: true, length: 12, lineStyle: { color: AXIS_COLOR, width: 1 } },
    };
    const baseY = {
      type: 'value' as const,
      min: Y_TICKS.min,
      max: Y_TICKS.max,
      interval: Y_TICKS.interval,
      axisLine: { onZero: false, lineStyle: { color: AXIS_COLOR, width: 1 } },
      axisTick: { inside: true, length: 12, lineStyle: { color: AXIS_COLOR, width: 1 } },
    };

    chart.setOption({
      animation: false,
      backgroundColor: '#ffffff',
      grid: { left: 66, right: 17, top: 43, bottom: 69, containLabel: false },
      xAxis: [
        {
          ...baseX,
          position: 'bottom',
          axisLabel: { color: AXIS_COLOR, fontSize: 20, fontFamily: FONT, margin: 11 },
          splitLine: { show: true, lineStyle: { color: GRID_COLOR, width: 1 } },
          name: 'Displacement[m]',
          nameLocation: 'middle',
          nameGap: 41,
          nameTextStyle: { color: AXIS_COLOR, fontSize: 22, fontFamily: FONT },
        },
        {
          ...baseX,
          position: 'top',
          axisLabel: { show: false },
          splitLine: { show: false },
        },
      ],
      yAxis: [
        {
          ...baseY,
          position: 'left',
          axisLabel: { color: AXIS_COLOR, fontSize: 20, fontFamily: FONT, margin: 8 },
          splitLine: { show: true, lineStyle: { color: GRID_COLOR, width: 1 } },
          name: 'Surface profile height[m]',
          nameLocation: 'middle',
          nameGap: 32,
          nameRotate: 90,
          nameTextStyle: { color: AXIS_COLOR, fontSize: 22, fontFamily: FONT },
        },
        {
          ...baseY,
          position: 'right',
          axisLabel: { show: false },
          splitLine: { show: false },
        },
      ],
      legend: {
        orient: 'vertical',
        left: 934,
        top: 3,
        padding: [7, 36, 3, 32],
        itemWidth: 44,
        itemHeight: 14,
        itemGap: 4,
        backgroundColor: '#ffffff',
        borderColor: AXIS_COLOR,
        borderWidth: 1,
        borderRadius: 0,
        itemStyle: { opacity: 0, borderWidth: 0 },
        textStyle: { color: '#000000', fontSize: 18, fontFamily: FONT, lineHeight: 20 },
        data: SERIES_NAMES,
      },
      graphic: [
        {
          type: 'text',
          x: 655.5,
          y: 23.5,
          style: {
            text: 'Surface Profiles',
            fill: '#000000',
            fontSize: 22,
            fontWeight: 'bold',
            fontFamily: FONT,
            align: 'center',
            verticalAlign: 'middle',
          },
        },
        {
          type: 'text',
          x: 68,
          y: 29,
          style: { text: '×10', fill: AXIS_COLOR, fontSize: 20, fontFamily: FONT, align: 'left', verticalAlign: 'middle' },
        },
        {
          type: 'text',
          x: 101,
          y: 22,
          style: { text: '-5', fill: AXIS_COLOR, fontSize: 17, fontFamily: FONT, align: 'left', verticalAlign: 'middle' },
        },
        {
          type: 'text',
          x: 1190,
          y: 647,
          style: { text: '×10', fill: AXIS_COLOR, fontSize: 20, fontFamily: FONT, align: 'left', verticalAlign: 'middle' },
        },
        {
          type: 'text',
          x: 1225,
          y: 639,
          style: { text: '-3', fill: AXIS_COLOR, fontSize: 17, fontFamily: FONT, align: 'left', verticalAlign: 'middle' },
        },
      ],
      series: SERIES_NAMES.map((name, i) => ({
        name,
        type: 'line',
        data: SERIES_DATA[i],
        xAxisIndex: 0,
        yAxisIndex: 0,
        symbol: 'none',
        showSymbol: false,
        clip: true,
        color: SERIES_COLORS[i],
        lineStyle: { color: SERIES_COLORS[i], width: SERIES_WIDTHS[i] },
        emphasis: { disabled: true },
      })),
    });

    return () => chart.dispose();
  }, []);

  return (
    <div
      ref={ref}
      style={{ position: 'fixed', left: 0, top: 0, width: 1262, height: 657, background: '#fff' }}
    />
  );
}
